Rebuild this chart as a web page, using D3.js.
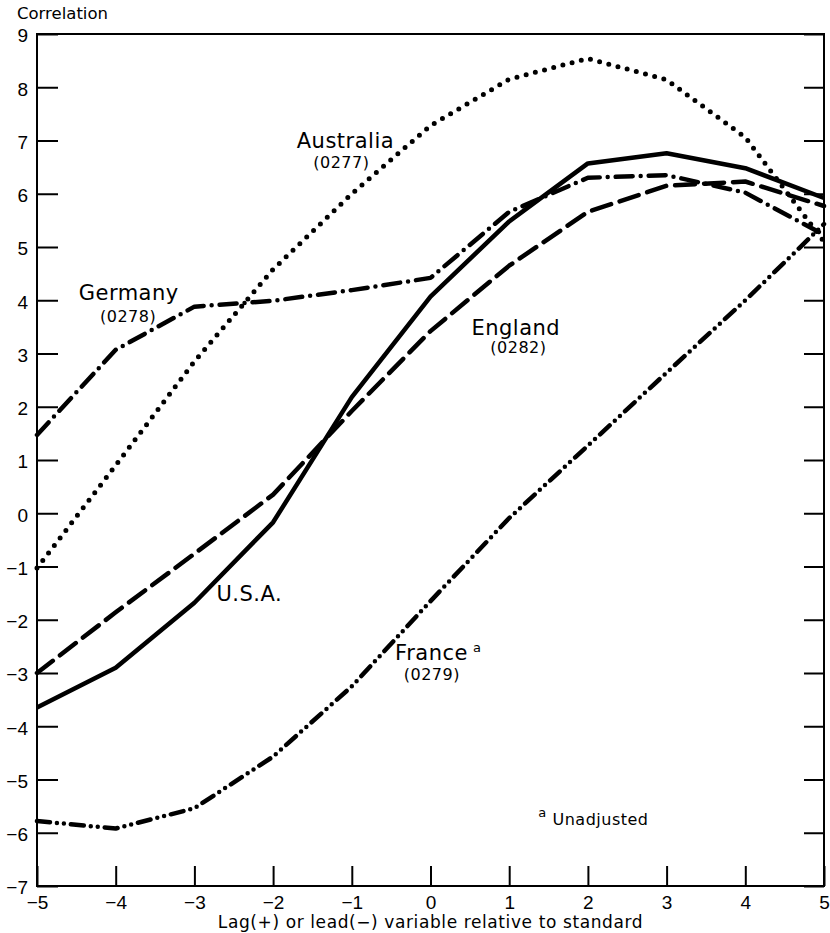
<!DOCTYPE html>
<html>
<head>
<meta charset="utf-8">
<script src="https://cdn.jsdelivr.net/npm/d3@7"></script>
<style>
    body { margin: 0; background: #fff; }
    svg { font-family: "DejaVu Sans", sans-serif; }
</style>
</head>
<body>
<svg id="chart" width="830" height="933"></svg>
<script>
// lag / lead positions on the x axis
const lags = [-5, -4, -3, -2, -1, 0, 1, 2, 3, 4, 5];

// correlation (x10) for each country
const usa       = [-3.65, -2.9, -1.68, -0.17, 2.18, 4.07, 5.48, 6.57, 6.76, 6.48, 5.92];
const england   = [-3.0, -1.86, -0.76, 0.35, 1.92, 3.42, 4.65, 5.66, 6.15, 6.23, 5.77];
const germany   = [1.47, 3.07, 3.88, 3.99, 4.19, 4.42, 5.66, 6.3, 6.35, 6.02, 5.23];
const australia = [-1.03, 0.9, 2.85, 4.58, 6.0, 7.28, 8.15, 8.54, 8.14, 7.06, 5.1];
const france    = [-5.78, -5.92, -5.54, -4.57, -3.25, -1.65, -0.09, 1.27, 2.64, 4.0, 5.43];

const yTicks = d3.range(-7, 10);
const xTicks = lags;

const svg = d3.select("#chart");
const margin = { top: 34, right: 6, bottom: 47, left: 37 };
const width = +svg.attr("width");
const height = +svg.attr("height");

const x = d3.scaleLinear().domain([-5, 5]).range([margin.left, width - margin.right]);
const y = d3.scaleLinear().domain([-7, 9]).range([height - margin.bottom, margin.top]);

const minus = d => (d < 0 ? "\u2212" + Math.abs(d) : "" + d);

// axes, ticks pointing into the plot
svg.append("g")
    .attr("class", "axis y-left")
    .attr("transform", `translate(${x(-5)},0)`)
    .call(d3.axisLeft(y).tickValues(yTicks).tickSize(-21).tickPadding(9).tickFormat(minus));

svg.append("g")
    .attr("class", "axis")
    .attr("transform", `translate(${x(5)},0)`)
    .call(d3.axisRight(y).tickValues(yTicks).tickSize(-20).tickFormat(""));

svg.append("g")
    .attr("class", "axis")
    .attr("transform", `translate(0,${y(-7)})`)
    .call(d3.axisBottom(x).tickValues(xTicks).tickSize(-20).tickPadding(10).tickFormat(minus));

svg.selectAll(".axis .domain").remove();
svg.selectAll(".axis .tick line").attr("stroke", "#000").attr("stroke-width", 2);
svg.selectAll(".axis text").attr("font-size", 19).attr("fill", "#000");
svg.selectAll(".y-left text").attr("dy", "0.42em");

// frame
svg.append("rect")
    .attr("x", x(-5))
    .attr("y", y(9))
    .attr("width", x(5) - x(-5))
    .attr("height", y(-7) - y(9))
    .attr("fill", "none")
    .attr("stroke", "#000")
    .attr("stroke-width", 2);

// series
const series = [
    { name: "usa", values: usa, dash: null },
    { name: "england", values: england, dash: "20 9" },
    { name: "germany", values: germany, dash: "17 8 0 8" },
    { name: "australia", values: australia, dash: "0 9.5" },
    { name: "france", values: france, dash: "13 7 0 7 0 7" }
];

const line = d3.line()
    .x((d, i) => x(lags[i]))
    .y(d => y(d));

svg.append("g")
    .selectAll("path")
    .data(series)
    .join("path")
    .attr("d", d => line(d.values))
    .attr("fill", "none")
    .attr("stroke", "#000")
    .attr("stroke-width", d => d.name === "australia" ? 5 : 4.5)
    .attr("stroke-linejoin", "round")
    .attr("stroke-linecap", d => d.dash ? "round" : "butt")
    .attr("stroke-dasharray", d => d.dash);

// titles
svg.append("text")
    .attr("x", 17)
    .attr("y", 19)
    .attr("font-size", 16.5)
    .text("Correlation");

svg.append("text")
    .attr("x", (x(-5) + x(5)) / 2)
    .attr("y", 928)
    .attr("text-anchor", "middle")
    .attr("font-size", 17)
    .attr("letter-spacing", 0.6)
    .text("Lag(+) or lead(\u2212) variable relative to standard");

// series labels
const label = (xv, yv, txt, size) => svg.append("text")
    .attr("x", x(xv))
    .attr("y", y(yv))
    .attr("font-size", size)
    .attr("letter-spacing", 0.5)
    .text(txt);

label(-1.70, 6.86, "Australia", 21);
label(-1.49, 6.48, "(0277)", 16);
label(-4.47, 4.0, "Germany", 21);
label(-4.2, 3.6, "(0278)", 16);
label(0.52, 3.35, "England", 21);
label(0.76, 3.01, "(0282)", 16);
label(-2.72, -1.65, "U.S.A.", 21);
label(-0.45, -2.76, "France", 21);
label(-0.34, -3.14, "(0279)", 16);
label(1.55, -5.86, "Unadjusted", 16);

// footnote markers
label(0.54, -2.6, "a", 13);
label(1.37, -5.7, "a", 13);
</script>
</body>
</html>
